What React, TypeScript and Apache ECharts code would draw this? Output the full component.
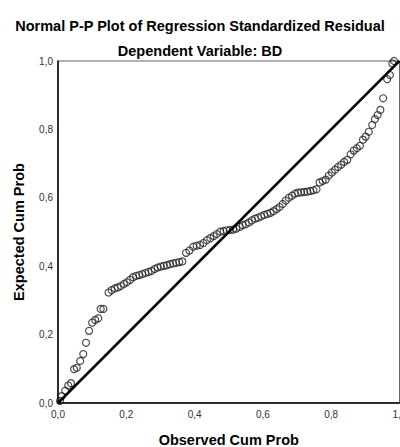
import React, { useEffect, useRef } from "react";
import * as echarts from "echarts";

const titleText = "Normal P-P Plot of Regression Standardized Residual";
const subtitleText = "Dependent Variable: BD";
const xAxisName = "Observed Cum Prob";
const yAxisName = "Expected Cum Prob";
const tickValues = [0, 0.2, 0.4, 0.6, 0.8, 1.0];

const observed = [
  0.006, 0.011, 0.021, 0.030, 0.038, 0.047, 0.055, 0.065, 0.074, 0.082,
  0.091, 0.100, 0.109, 0.118, 0.125, 0.133, 0.148, 0.157, 0.166, 0.175,
  0.184, 0.193, 0.202, 0.211, 0.220, 0.229, 0.238, 0.247, 0.256, 0.265,
  0.274, 0.283, 0.292, 0.301, 0.310, 0.319, 0.328, 0.337, 0.346, 0.355,
  0.364, 0.375, 0.385, 0.396, 0.406, 0.416, 0.426, 0.436, 0.446, 0.456,
  0.465, 0.475, 0.485, 0.494, 0.503, 0.513, 0.522, 0.532, 0.541, 0.550,
  0.559, 0.568, 0.577, 0.586, 0.595, 0.604, 0.613, 0.622, 0.631, 0.640,
  0.649, 0.658, 0.667, 0.676, 0.685, 0.694, 0.703, 0.712, 0.721, 0.730,
  0.739, 0.748, 0.757, 0.766, 0.775, 0.784, 0.793, 0.802, 0.811, 0.820,
  0.829, 0.838, 0.847, 0.857, 0.866, 0.875, 0.884, 0.893, 0.901, 0.910,
  0.920, 0.928, 0.936, 0.944, 0.952, 0.964, 0.972, 0.979, 0.984,
];

const expected = [
  0.006, 0.020, 0.036, 0.051, 0.058, 0.099, 0.103, 0.123, 0.143, 0.176,
  0.211, 0.235, 0.243, 0.248, 0.275, 0.275, 0.323, 0.330, 0.335, 0.338,
  0.342, 0.348, 0.353, 0.360, 0.368, 0.372, 0.374, 0.377, 0.380, 0.383,
  0.386, 0.392, 0.396, 0.399, 0.401, 0.403, 0.406, 0.408, 0.410, 0.412,
  0.414, 0.439, 0.446, 0.457, 0.460, 0.462, 0.468, 0.476, 0.482, 0.488,
  0.494, 0.501, 0.503, 0.505, 0.506, 0.507, 0.510, 0.515, 0.520, 0.523,
  0.528, 0.534, 0.539, 0.542, 0.546, 0.550, 0.553, 0.556, 0.561, 0.567,
  0.573, 0.582, 0.592, 0.600, 0.606, 0.612, 0.615, 0.616, 0.617, 0.618,
  0.620, 0.622, 0.625, 0.645, 0.649, 0.653, 0.665, 0.674, 0.682, 0.690,
  0.697, 0.705, 0.711, 0.727, 0.738, 0.745, 0.752, 0.770, 0.779, 0.793,
  0.813, 0.830, 0.842, 0.857, 0.891, 0.947, 0.959, 0.993, 1.0,
];

const refLine = [
  [0, 0],
  [1, 1],
];

const FONT = "Liberation Sans, Arial, sans-serif";

export default function App() {
  const ref = useRef<HTMLDivElement>(null);

  useEffect(() => {
    if (!ref.current) return;
    const chart = echarts.init(ref.current, null, { renderer: "svg" });
    const fmt = (v: number) => v.toFixed(1).replace(".", ",");
    const points = observed.map((x, i) => [x, expected[i]]);
    chart.setOption({
      animation: false,
      backgroundColor: "#ffffff",
      title: [
        {
          text: titleText,
          left: "center",
          top: 13,
          textStyle: { fontSize: 14.5, fontWeight: "bold", fontFamily: FONT, color: "#000" },
        },
        {
          text: subtitleText,
          left: "center",
          top: 38,
          textStyle: { fontSize: 14.5, fontWeight: "bold", fontFamily: FONT, color: "#000" },
        },
      ],
      grid: {
        left: 58,
        right: 0.5,
        top: 61,
        bottom: 44,
        show: true,
        borderColor: "#666",
        borderWidth: 1,
        containLabel: false,
        outerBoundsMode: "none",
      },
      xAxis: {
        type: "value",
        min: 0,
        max: 1,
        interval: 0.2,
        name: xAxisName,
        nameLocation: "middle",
        nameGap: 29,
        nameTextStyle: { fontSize: 14.5, fontWeight: "bold", fontFamily: FONT, color: "#000" },
        axisLine: { show: true, lineStyle: { color: "#000", width: 1.5 } },
        axisTick: { show: false },
        splitLine: { show: false },
        axisLabel: {
          formatter: (v: number) => (tickValues.some((t) => Math.abs(t - v) < 1e-9) ? fmt(v) : ""),
          fontSize: 10,
          fontFamily: FONT,
          color: "#333",
          margin: 6,
        },
      },
      yAxis: {
        type: "value",
        min: 0,
        max: 1,
        interval: 0.2,
        name: yAxisName,
        nameLocation: "middle",
        nameGap: 32,
        nameTextStyle: { fontSize: 14.5, fontWeight: "bold", fontFamily: FONT, color: "#000" },
        axisLine: { show: true, lineStyle: { color: "#000", width: 1.5 } },
        axisTick: { show: false },
        splitLine: { show: false },
        axisLabel: {
          formatter: (v: number) => fmt(v),
          fontSize: 10,
          fontFamily: FONT,
          color: "#333",
          margin: 5,
        },
      },
      series: [
        {
          type: "scatter",
          data: points,
          symbol: "circle",
          symbolSize: 7,
          itemStyle: { color: "rgba(0,0,0,0)", borderColor: "#222", borderWidth: 1.2 },
          z: 2,
        },
        {
          type: "line",
          data: refLine,
          symbol: "none",
          lineStyle: { color: "#000", width: 2.5 },
          z: 3,
        },
      ],
    });
    return () => chart.dispose();
  }, []);

  return <div ref={ref} style={{ width: 400, height: 447, position: "absolute", left: 0, top: 0 }} />;
}
